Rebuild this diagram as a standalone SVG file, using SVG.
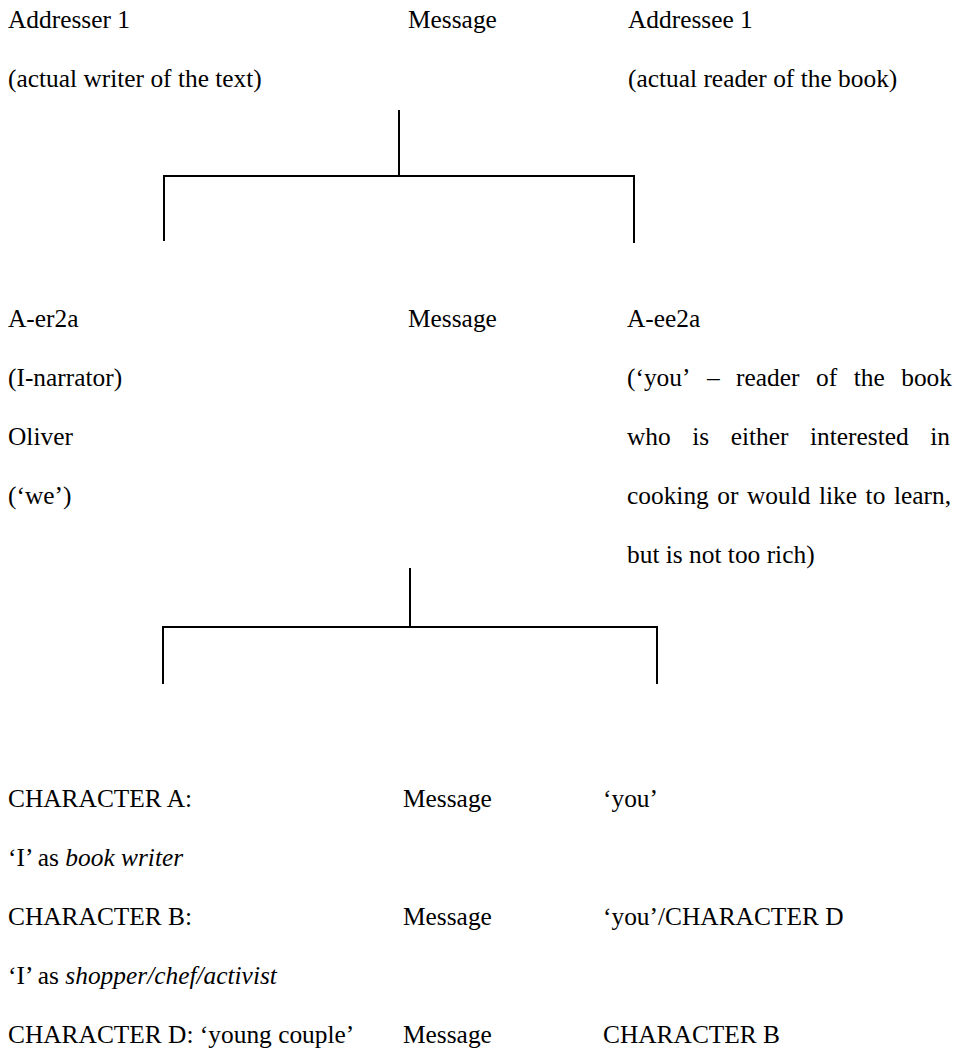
<svg xmlns="http://www.w3.org/2000/svg" width="954" height="1051" viewBox="0 0 954 1051">
  <style>
    text { font-family: "Liberation Serif", "Times New Roman", serif; font-size: 25.4px; fill: #000; }
    .it { font-style: italic; }
    .conn { stroke: #000; stroke-width: 2; fill: none; stroke-linecap: square; }
  </style>
  <rect width="954" height="1051" fill="#fff"/>

  <!-- Level 1: real-world communication -->
  <g id="addresser1">
    <text x="8" y="28">Addresser 1</text>
    <text x="8" y="87">(actual writer of the text)</text>
  </g>
  <g id="message1">
    <text x="408" y="28">Message</text>
  </g>
  <g id="addressee1">
    <text x="628" y="28">Addressee 1</text>
    <text x="628" y="87">(actual reader of the book)</text>
  </g>

  <!-- Level 2: implied communication -->
  <g id="addresser2a">
    <text x="8" y="327">A-er2a</text>
    <text x="8" y="386">(I-narrator)</text>
    <text x="8" y="445">Oliver</text>
    <text x="8" y="504">(‘we’)</text>
  </g>
  <g id="message2">
    <text x="408" y="327">Message</text>
  </g>
  <g id="addressee2a">
    <text x="627" y="327">A-ee2a</text>
    <text y="386"><tspan x="627">(‘you’</tspan><tspan x="707">–</tspan><tspan x="736">reader</tspan><tspan x="816">of</tspan><tspan x="853.7">the</tspan><tspan x="901.2">book</tspan></text>
    <text y="445"><tspan x="627">who</tspan><tspan x="692.2">is</tspan><tspan x="730.7">either</tspan><tspan x="810">interested</tspan><tspan x="930.2">in</tspan></text>
    <text y="504"><tspan x="627">cooking</tspan><tspan x="717.3">or</tspan><tspan x="747">would</tspan><tspan x="819">like</tspan><tspan x="865.6">to</tspan><tspan x="893.9">learn,</tspan></text>
    <text x="627" y="563">but is not too rich)</text>
  </g>

  <!-- Level 3: characters -->
  <g id="characterA">
    <text x="8" y="807">CHARACTER A:</text>
    <text x="8" y="866">‘I’ as <tspan class="it">book writer</tspan></text>
  </g>
  <g id="message3a">
    <text x="403" y="807">Message</text>
  </g>
  <g id="you3a">
    <text x="603" y="807">‘you’</text>
  </g>
  <g id="characterB">
    <text x="8" y="925">CHARACTER B:</text>
    <text x="8" y="984">‘I’ as <tspan class="it">shopper/chef/activist</tspan></text>
  </g>
  <g id="message3b">
    <text x="403" y="925">Message</text>
  </g>
  <g id="you3b">
    <text x="603" y="925">‘you’/CHARACTER D</text>
  </g>
  <g id="characterD">
    <text x="8" y="1043">CHARACTER D: ‘young couple’</text>
  </g>
  <g id="message3c">
    <text x="403" y="1043">Message</text>
  </g>
  <g id="characterB-recipient">
    <text x="603" y="1043">CHARACTER B</text>
  </g>

  <!-- Branching connectors -->
  <g id="connectors" class="conn">
    <path class="conn" d="M399 111 V176 M164 240 V176 H634 V242"/>
    <path class="conn" d="M410 569 V627 M163 683 V627 H657 V683"/>
  </g>
</svg>
